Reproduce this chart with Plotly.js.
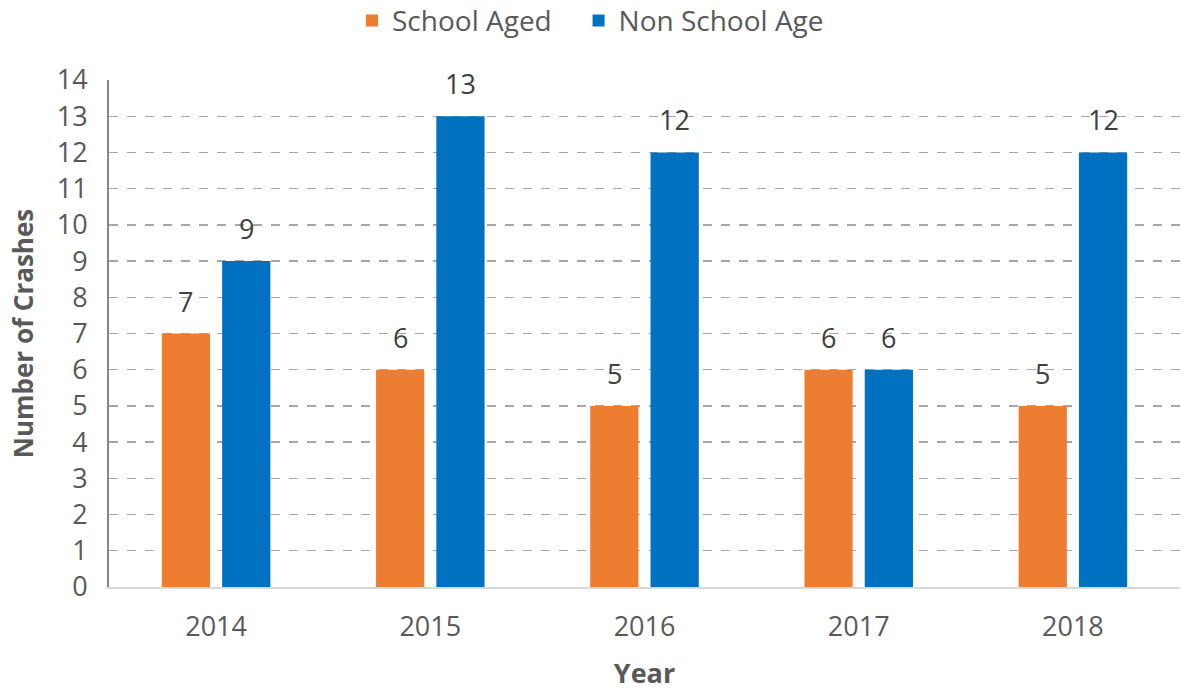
<!DOCTYPE html>
<html><head><meta charset="utf-8">
<script src="https://cdn.plot.ly/plotly-3.0.1.min.js"></script>
<style>html,body{margin:0;padding:0;background:#fff}#chart{width:1181px;height:691px}</style>
</head><body><div id="chart"></div>
<script>
const years = ['2014','2015','2016','2017','2018'];
const schoolAged = [7,6,5,6,5];
const nonSchoolAge = [9,13,12,6,12];
const seriesNames = ['School Aged','Non School Age'];
const colors = ['#ED7D31','#0070C0'];
const FONT = 'Open Sans, sans-serif';

const traces = [
  {type:'bar', name:seriesNames[0] + '\u00A0\u00A0\u00A0', x:years, y:schoolAged, marker:{color:colors[0]}},
  {type:'bar', name:seriesNames[1], x:years, y:nonSchoolAge, marker:{color:colors[1]}}
];

const bargap = 0.437, bargroupgap = 0.2;
const plotW = 1181 - 109 - 1;
const catW = plotW / years.length;
const slot = catW * (1 - bargap) / 2;
const annotations = [];
[schoolAged, nonSchoolAge].forEach((vals, si) => {
  vals.forEach((v, i) => {
    annotations.push({x: years[i], y: v, xref:'x', yref:'y', text: String(v), showarrow:false,
      xanchor:'center', yanchor:'bottom', yshift: 12, xshift: (si === 0 ? -1 : 1) * slot / 2,
      font:{family:FONT, size:27, color:'#404040'}});
  });
});

const layout = {
  width:1181, height:691,
  margin:{l:109, r:1, t:80, b:104, autoexpand:false},
  paper_bgcolor:'#fff', plot_bgcolor:'#fff',
  barmode:'group', bargap:bargap, bargroupgap:bargroupgap,
  font:{family:FONT, color:'#595959', size:27},
  legend:{orientation:'h', xref:'container', yref:'container', x:0.5, xanchor:'center', y:0.97, yanchor:'middle',
    font:{family:FONT, size:28, color:'#595959'}, traceorder:'normal', itemwidth:30},
  xaxis:{showgrid:false, showline:true, linecolor:'#D9D9D9', linewidth:2, ticks:'',
    tickfont:{family:FONT, size:27, color:'#595959'}, ticklabelstandoff:15, automargin:false,
    title:{text:'<b>Year</b>', font:{family:FONT, size:27, color:'#595959'}, standoff:22}},
  yaxis:{range:[0,14], dtick:1, showgrid:true, gridcolor:'#A6A6A6', griddash:'dash', gridwidth:1.3,
    showline:true, linecolor:'#868686', linewidth:2, zeroline:false, ticks:'', automargin:false,
    tickfont:{family:FONT, size:27, color:'#595959'}, ticklabelstandoff:14,
    title:{text:'<b>Number of Crashes</b>', font:{family:FONT, size:26, color:'#595959'}, standoff:16}},
  annotations:annotations,
  showlegend:true
};
Plotly.newPlot('chart', traces, layout, {displayModeBar:false, staticPlot:true});
</script></body></html>
